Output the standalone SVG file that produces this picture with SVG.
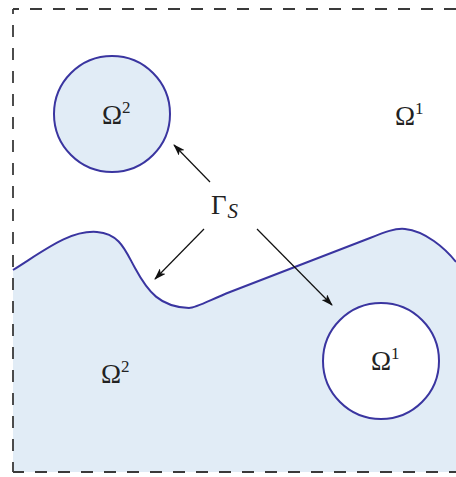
<svg xmlns="http://www.w3.org/2000/svg" width="456" height="477" viewBox="0 0 456 477">
<style>
.lbl{font-family:"Liberation Serif","Times New Roman",serif;font-size:27px;fill:#222}
.sup{font-family:"Liberation Serif","Times New Roman",serif;font-size:17px;fill:#222}
.bd{fill:none;stroke:#3a35a0;stroke-width:2}
.dash{stroke:#3a3a3a;stroke-width:1.8;fill:none;stroke-dasharray:12,11}
.arr{stroke:#111;stroke-width:1.2;fill:none;marker-end:url(#ah)}
</style>
<defs>
<marker id="ah" markerWidth="12" markerHeight="8" refX="11" refY="4" orient="auto" markerUnits="userSpaceOnUse">
<path d="M0,0 L12,4 L0,8 L3,4 Z" fill="#111"/>
</marker>
</defs>
<g id="region2">
<path d="M13,270 C45,250 70,230 97,232 C120,234 125,250 135,268 C148,292 160,307 189,308 C196,308 210,300 230,292 L370,238 C385,232 395,228 405,229 C425,231 445,248 456,262 L456,472 L13,472 Z" fill="#e1ecf6"/>
<path class="bd" d="M13,270 C45,250 70,230 97,232 C120,234 125,250 135,268 C148,292 160,307 189,308 C196,308 210,300 230,292 L370,238 C385,232 395,228 405,229 C425,231 445,248 456,262"/>
</g>
<g id="border">
<line class="dash" x1="13" y1="9" x2="460" y2="9" stroke-dashoffset="6"/>
<line class="dash" x1="13" y1="9" x2="13" y2="472" stroke-dashoffset="7"/>
<line class="dash" x1="13" y1="472" x2="460" y2="472" stroke-dashoffset="1"/>
</g>
<g id="circle-top">
<circle cx="112" cy="114" r="58" class="bd" style="fill:#e1ecf6"/>
<text class="lbl" x="102" y="124">Ω<tspan class="sup" dy="-11">2</tspan></text>
</g>
<g id="circle-bottom">
<circle cx="381" cy="361" r="58" class="bd" style="fill:#ffffff"/>
<text class="lbl" x="371" y="370">Ω<tspan class="sup" dy="-11">1</tspan></text>
</g>
<g id="label-omega1">
<text class="lbl" x="395" y="125">Ω<tspan class="sup" dy="-11">1</tspan></text>
</g>
<g id="label-omega2">
<text class="lbl" x="101" y="383">Ω<tspan class="sup" dy="-11">2</tspan></text>
</g>
<g id="gamma">
<text class="lbl" x="211" y="214" font-size="27">Γ<tspan font-style="italic" font-size="21" dy="4" dx="1">S</tspan></text>
</g>
<g id="connectors">
<line class="arr" x1="210" y1="182" x2="174" y2="145"/>
<line class="arr" x1="204" y1="229" x2="155" y2="279"/>
<line class="arr" x1="257" y1="229" x2="332" y2="305"/>
</g>
</svg>
